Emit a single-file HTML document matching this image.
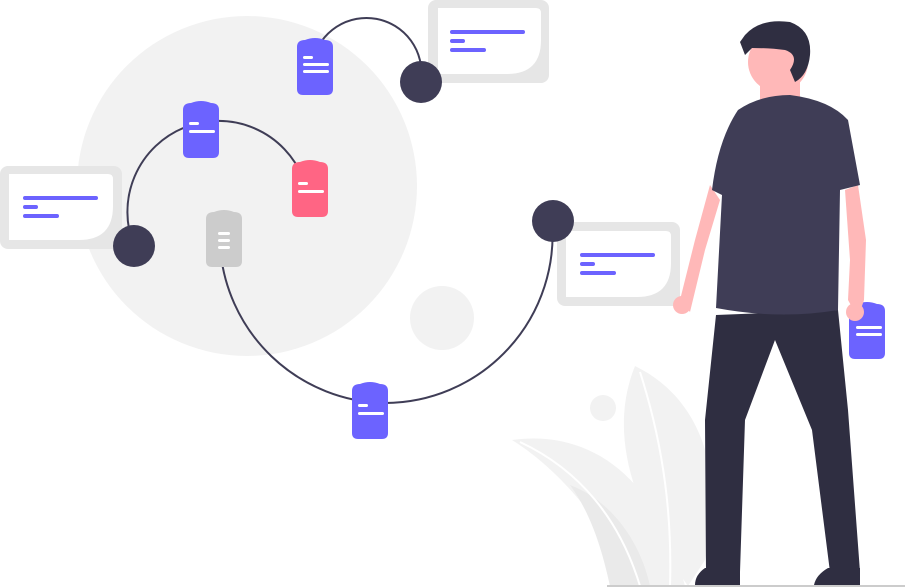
<!DOCTYPE html>
<html><head><meta charset="utf-8"><style>html,body{margin:0;padding:0;background:#fff}svg{display:block}</style></head>
<body>
<svg width="905" height="588" viewBox="0 0 905 588" xmlns="http://www.w3.org/2000/svg">
<circle cx="247" cy="186" r="170" fill="#f2f2f2"/>
<circle cx="442" cy="318" r="32" fill="#f2f2f2"/>
<circle cx="603" cy="408" r="13" fill="#f2f2f2"/>
<!-- plant -->
<path d="M635 366 C705 400 725 480 705 560 L688 586 C640 520 605 440 635 366Z" fill="#f2f2f2"/>
<path d="M512 440 C585 430 655 470 685 586 L640 586 C600 520 560 470 512 440Z" fill="#f2f2f2"/>
<path d="M570 485 C610 500 640 540 650 586 L610 586 C600 540 588 510 570 485Z" fill="#eaeaea"/>
<path d="M640 372 C665 450 672 520 670 586 M520 442 C580 470 620 520 640 586" stroke="#fff" stroke-width="2" fill="none"/>
<line x1="607" y1="586" x2="905" y2="586" stroke="#ccc" stroke-width="2"/>
<!-- arcs -->
<path d="M313 60 A55 55 0 0 1 421 80" fill="none" stroke="#3f3d56" stroke-width="2"/>
<path d="M313 60 A55 55 0 1 1 421 80" fill="none" stroke="none"/>
<path d="M134 246 A90 90 0 0 1 303 178" fill="none" stroke="#3f3d56" stroke-width="2"/>
<path d="M220 245 A168 168 0 0 0 385 403 A168 168 0 0 0 552 221" fill="none" stroke="#3f3d56" stroke-width="2"/>
<!-- cards -->
<g>
<rect x="428" y="0" width="121" height="83" rx="8" fill="#e6e6e6"/>
<path d="M438 8 H536 Q541 8 541 13 V40 Q541 74 507 74 H438 Z" fill="#fff"/>
<rect x="450" y="30" width="75" height="4" rx="2" fill="#6c63ff"/><rect x="450" y="39" width="15" height="4" rx="2" fill="#6c63ff"/><rect x="450" y="48" width="36" height="4" rx="2" fill="#6c63ff"/>
</g>
<g>
<rect x="0" y="166" width="122" height="83" rx="8" fill="#e6e6e6"/>
<path d="M9 174 H108 Q113 174 113 179 V206 Q113 240 79 240 H9 Z" fill="#fff"/>
<rect x="23" y="196" width="75" height="4" rx="2" fill="#6c63ff"/><rect x="23" y="205" width="15" height="4" rx="2" fill="#6c63ff"/><rect x="23" y="214" width="36" height="4" rx="2" fill="#6c63ff"/>
</g>
<g>
<rect x="557" y="222" width="123" height="84" rx="8" fill="#e6e6e6"/>
<path d="M566 231 H666 Q671 231 671 236 V263 Q671 297 637 297 H566 Z" fill="#fff"/>
<rect x="580" y="253" width="75" height="4" rx="2" fill="#6c63ff"/><rect x="580" y="262" width="15" height="4" rx="2" fill="#6c63ff"/><rect x="580" y="271" width="36" height="4" rx="2" fill="#6c63ff"/>
</g>
<!-- dark nodes -->
<circle cx="421" cy="82" r="21" fill="#3f3d56"/>
<circle cx="134" cy="246" r="21" fill="#3f3d56"/>
<circle cx="553" cy="221" r="21" fill="#3f3d56"/>
<!-- docs -->
<defs>
<g id="doc"><path d="M-18 -20 Q-18 -27 -10 -27 Q0 -31 10 -27 Q18 -27 18 -20 V22 Q18 28 12 28 H-12 Q-18 28 -18 22 Z"/></g>
</defs>
<g fill="#6c63ff"><use href="#doc" x="315" y="67"/></g>
<g fill="#fff"><rect x="303" y="63" width="26" height="3" rx="1.5"/><rect x="303" y="70" width="26" height="3" rx="1.5"/><rect x="303" y="56" width="10" height="3" rx="1.5"/></g>
<g fill="#6c63ff"><use href="#doc" x="201" y="130"/></g>
<g fill="#fff"><rect x="189" y="122" width="10" height="3" rx="1.5"/><rect x="189" y="130" width="26" height="3" rx="1.5"/></g>
<g fill="#ff6584"><use href="#doc" x="310" y="189"/></g>
<g fill="#fff"><rect x="298" y="182" width="10" height="3" rx="1.5"/><rect x="298" y="190" width="26" height="3" rx="1.5"/></g>
<g fill="#ccc"><use href="#doc" x="224" y="239"/></g>
<g fill="#fff"><rect x="218" y="232" width="12" height="3" rx="1.5"/><rect x="218" y="239" width="12" height="3" rx="1.5"/><rect x="218" y="246" width="12" height="3" rx="1.5"/></g>
<g fill="#6c63ff"><use href="#doc" x="370" y="411"/></g>
<g fill="#fff"><rect x="358" y="404" width="10" height="3" rx="1.5"/><rect x="358" y="412" width="26" height="3" rx="1.5"/></g>
<g fill="#6c63ff"><use href="#doc" x="867" y="331"/></g>
<g fill="#fff"><rect x="856" y="326" width="26" height="3" rx="1.5"/><rect x="856" y="333" width="26" height="3" rx="1.5"/></g>
<!-- person -->
<path d="M716 315 L705 420 L706 572 L740 572 L745 420 L775 340 L812 430 L830 572 L860 572 L848 410 L838 310 Z" fill="#2f2e41"/>
<path d="M705 568 L740 568 L740 585 L695 585 Q695 575 705 568Z" fill="#2f2e41"/>
<path d="M828 568 L860 568 L860 585 L814 585 Q816 575 828 568Z" fill="#2f2e41"/>
<path d="M710 185 L695 240 L680 300 L690 312 L705 250 L720 200Z" fill="#ffb8b8"/>
<path d="M845 190 L850 260 L848 300 L858 318 L864 300 L866 240 L858 185Z" fill="#ffb8b8"/>
<circle cx="682" cy="305" r="9" fill="#ffb8b8"/>
<circle cx="855" cy="312" r="9" fill="#ffb8b8"/>
<path d="M760 80 L800 80 L800 100 L760 100Z" fill="#ffb8b8"/>
<path d="M738 110 Q760 95 790 95 Q830 100 848 120 L860 185 L840 190 L838 310 Q780 320 716 308 L722 195 L712 190 Q718 140 738 110Z" fill="#3f3d56"/>
<circle cx="778" cy="62" r="30" fill="#ffb8b8"/>
<path d="M745 35 Q760 18 790 22 Q812 30 810 55 Q808 75 795 82 L790 70 Q800 55 785 50 Q770 48 752 48 L745 55 L740 42Z" fill="#2f2e41"/>
</svg>
</body></html>
